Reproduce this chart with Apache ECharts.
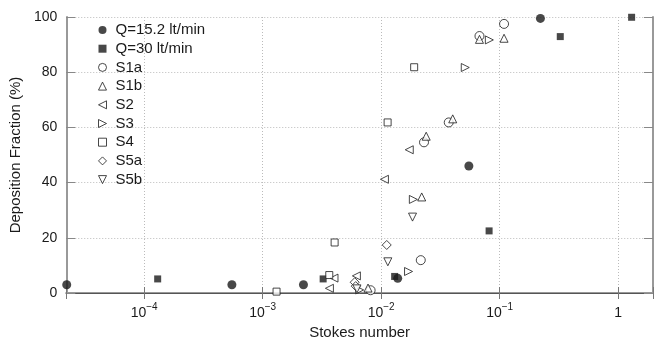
<!DOCTYPE html>
<html lang="en">
<head>
<meta charset="UTF-8">
<title>Deposition Fraction vs Stokes number</title>
<script src="https://cdn.jsdelivr.net/npm/echarts@6/dist/echarts.min.js"></script>
<style>
  html, body { margin: 0; padding: 0; background: #fff; }
  #main { width: 656px; height: 345px; }
</style>
</head>
<body>
<div id="main"></div>
<script>
// data (x = Stokes number, y = deposition fraction %)
var q152X = [2.22e-5, 5.5e-4, 2.21e-3, 0.0138, 0.055, 0.221];
var q152Y = [3.0, 3.0, 3.0, 5.3, 46, 99.5];
var q30X = [1.30e-4, 3.24e-3, 0.0130, 0.0815, 0.325, 1.30];
var q30Y = [5.1, 5.1, 6.0, 22.5, 92.9, 99.9];
var s1aX = [8.15e-3, 0.0216, 0.0230, 0.0372, 0.0676, 0.109];
var s1aY = [1.0, 11.9, 54.6, 61.8, 93.1, 97.5];
var s1bX = [7.75e-3, 0.0220, 0.0240, 0.0402, 0.0676, 0.109];
var s1bY = [1.8, 34.8, 56.8, 63.1, 91.9, 92.3];
var s2X = [3.66e-3, 4.0e-3, 6.18e-3, 0.01066, 0.01727];
var s2Y = [1.7, 5.4, 6.2, 41.2, 51.9];
var s3X = [6.59e-3, 0.01703, 0.0187, 0.0513, 0.0819];
var s3Y = [1.1, 7.8, 33.9, 81.7, 91.7];
var s4X = [1.31e-3, 3.65e-3, 4.05e-3, 0.01134, 0.0190];
var s4Y = [0.5, 6.5, 18.3, 61.8, 81.8];
var s5aX = [5.98e-3, 6.1e-3, 0.01115];
var s5aY = [3.9, 2.5, 17.4];
var s5bX = [6.25e-3, 0.01139, 0.0184];
var s5bY = [1.5, 11.3, 27.5];

var xMin = 2.2e-5, xMax = 1.97;

function pairs(xs, ys) {
    var out = [];
    for (var i = 0; i < xs.length; i++) out.push([xs[i], ys[i]]);
    return out;
}

var ink = '#1a1a1a';
var font = 'Liberation Sans, Arial, sans-serif';

// triangle paths for the legend (legend ignores rotation)
var triLeft = 'path://M10,0 L10,10 L0,5 Z';
var triRight = 'path://M0,0 L0,10 L10,5 Z';
var triDown = 'path://M0,0 L10,0 L5,10 Z';

// legend entries: name, icon, filled
var legendDefs = [
    ['Q=15.2 lt/min', 'circle', true],
    ['Q=30 lt/min', 'rect', true],
    ['S1a', 'circle', false],
    ['S1b', 'triangle', false],
    ['S2', triLeft, false],
    ['S3', triRight, false],
    ['S4', 'rect', false],
    ['S5a', 'diamond', false],
    ['S5b', triDown, false]
];

function style(filled) {
    return filled ? { color: ink, borderWidth: 0 } : { color: '#fff', borderColor: ink, borderWidth: 1 };
}

function mk(name, xs, ys, symbol, size, filled, rotate) {
    return {
        name: name,
        type: 'scatter',
        data: pairs(xs, ys),
        symbol: symbol,
        symbolSize: size,
        symbolRotate: rotate || 0,
        clip: false,
        itemStyle: style(filled)
    };
}

function xLabel(v) {
    var e = Math.log(v) / Math.LN10;
    var r = Math.round(e);
    if (Math.abs(e - r) > 1e-6) return '';
    if (r === 0) return '{b|1}';
    return '{b|10}{s|\u2212' + (-r) + '}';
}

var legendData = legendDefs.map(function (d) {
    return { name: d[0], icon: d[1], itemStyle: style(d[2]) };
});

var chart = echarts.init(document.getElementById('main'));
chart.setOption({
    animation: false,
    textStyle: { fontFamily: font },
    grid: { left: 64, right: 1, top: 17, bottom: 51 },
    legend: {
        orient: 'vertical',
        left: 93,
        top: 17,
        itemWidth: 8,
        itemHeight: 8,
        itemGap: 2.7,
        textStyle: { fontSize: 15, color: ink, lineHeight: 16, padding: [0, 0, 0, 4], fontFamily: font },
        data: legendData
    },
    xAxis: [{
        type: 'log',
        logBase: 10,
        min: xMin,
        max: xMax,
        position: 'bottom',
        name: 'Stokes number',
        nameLocation: 'middle',
        nameGap: 32,
        nameTextStyle: { fontSize: 15, color: ink, fontFamily: font },
        axisLine: { lineStyle: { color: '#999', width: 2 } },
        axisTick: { inside: true, length: 6, lineStyle: { color: '#777' } },
        minorTick: { show: false },
        axisLabel: {
            formatter: xLabel,
            margin: 9,
            rich: {
                b: { fontSize: 14, color: ink, lineHeight: 18, verticalAlign: 'bottom', fontFamily: font },
                s: { fontSize: 10, color: ink, lineHeight: 18, verticalAlign: 'top', fontFamily: font }
            }
        },
        splitLine: { show: true, lineStyle: { color: '#bbb', type: [1, 2] } }
    }, {
        type: 'log',
        logBase: 10,
        min: xMin,
        max: xMax,
        position: 'top',
        axisLine: { lineStyle: { color: '#555', width: 1 } },
        axisTick: { show: true, inside: true, length: 6, lineStyle: { color: '#777' } },
        axisLabel: { show: false },
        splitLine: { show: false }
    }],
    yAxis: [{
        type: 'value',
        min: 0,
        max: 100,
        interval: 20,
        name: 'Deposition Fraction (%)',
        nameLocation: 'middle',
        nameGap: 43,
        nameTextStyle: { fontSize: 15, color: ink, fontFamily: font },
        axisLine: { show: true, lineStyle: { color: '#999', width: 2 } },
        axisTick: { show: true, inside: true, length: 9, lineStyle: { color: '#888' } },
        axisLabel: { fontSize: 14, color: ink, margin: 9, fontFamily: font },
        splitLine: { show: true, lineStyle: { color: '#bbb', type: [1, 2] } }
    }, {
        type: 'value',
        min: 0,
        max: 100,
        interval: 20,
        position: 'right',
        axisLine: { show: true, lineStyle: { color: '#999', width: 2 } },
        axisTick: { show: true, inside: true, length: 9, lineStyle: { color: '#888' } },
        axisLabel: { show: false },
        splitLine: { show: false }
    }],
    series: [
        mk('Q=15.2 lt/min', q152X, q152Y, 'circle', 9, true),
        mk('Q=30 lt/min', q30X, q30Y, 'rect', 7, true),
        mk('S1a', s1aX, s1aY, 'circle', 9, false),
        mk('S1b', s1bX, s1bY, 'triangle', 8, false),
        mk('S2', s2X, s2Y, 'triangle', 8, false, 90),
        mk('S3', s3X, s3Y, 'triangle', 8, false, -90),
        mk('S4', s4X, s4Y, 'rect', 7, false),
        mk('S5a', s5aX, s5aY, 'diamond', 9, false),
        mk('S5b', s5bX, s5bY, 'triangle', 8, false, 180)
    ]
});
</script>
</body>
</html>
